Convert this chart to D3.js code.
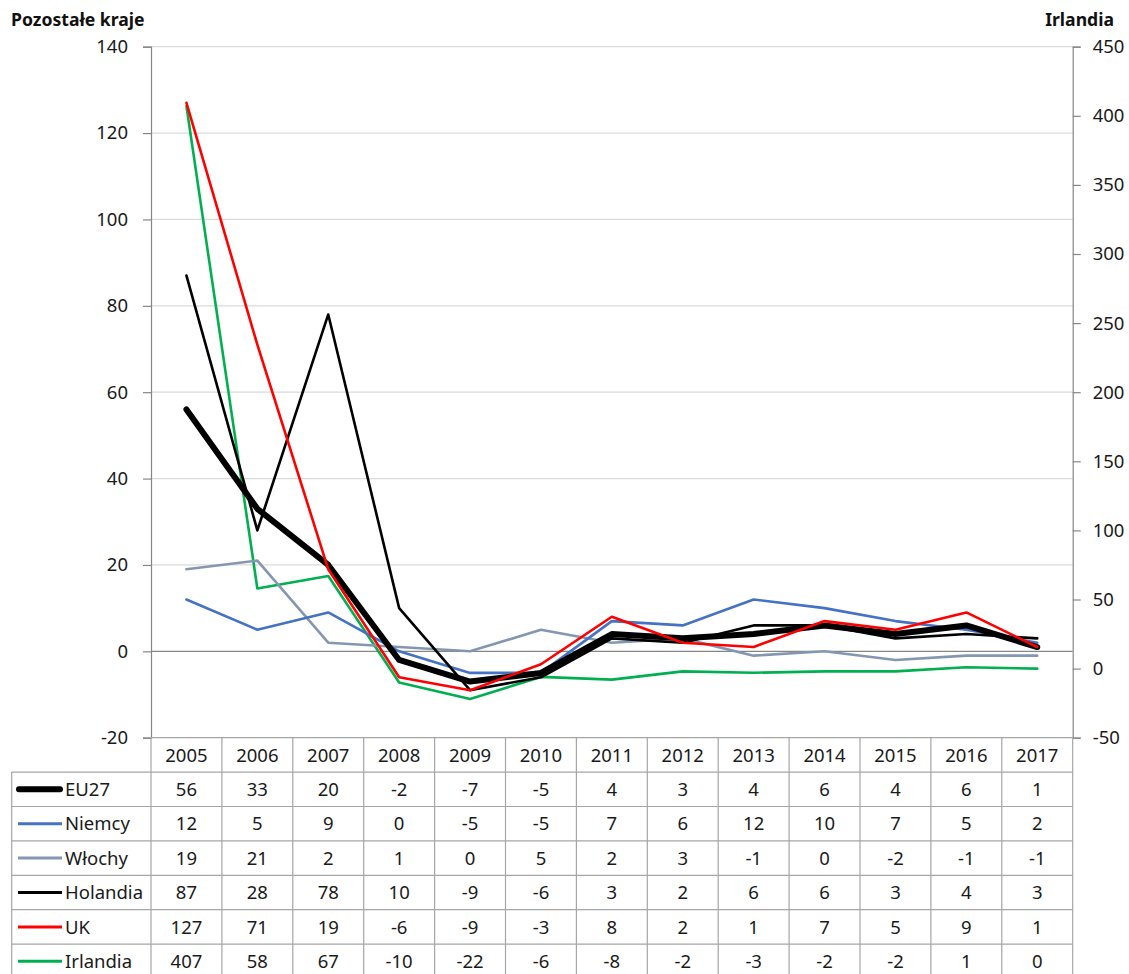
<!DOCTYPE html>
<html>
<head>
<meta charset="utf-8">
<script src="https://cdn.jsdelivr.net/npm/d3@7"></script>
<style>
  body { margin: 0; background: #fff; }
  svg { display: block; font-family: 'Noto Sans', sans-serif; }
</style>
</head>
<body>
<script>
const years = ['2005', '2006', '2007', '2008', '2009', '2010', '2011', '2012', '2013', '2014', '2015', '2016', '2017'];
const leftTicks = [-20, 0, 20, 40, 60, 80, 100, 120, 140];
const rightTicks = [-50, 0, 50, 100, 150, 200, 250, 300, 350, 400, 450];

const eu27 = [56, 33, 20, -2, -7, -5, 4, 3, 4, 6, 4, 6, 1];
const niemcy = [12, 5, 9, 0, -5, -5, 7, 6, 12, 10, 7, 5, 2];
const wlochy = [19, 21, 2, 1, 0, 5, 2, 3, -1, 0, -2, -1, -1];
const holandia = [87, 28, 78, 10, -9, -6, 3, 2, 6, 6, 3, 4, 3];
const uk = [127, 71, 19, -6, -9, -3, 8, 2, 1, 7, 5, 9, 1];
const irlandia = [407, 58, 67, -10, -22, -6, -8, -2, -3, -2, -2, 1, 0];

const seriesNames = ['EU27', 'Niemcy', 'Włochy', 'Holandia', 'UK', 'Irlandia'];

const width = 1129;
const height = 974;
const plot = { left: 151, right: 1072.7, top: 46.7, bottom: 737.7 };
const rowH = 34.4;
const tableLeft = 11.7;
const fontSize = 18.5;

const styles = {
  EU27: { color: '#000000', width: 6 },
  Niemcy: { color: '#4472c4', width: 2.6 },
  'Włochy': { color: '#8497b0', width: 2.6 },
  Holandia: { color: '#000000', width: 2.6 },
  UK: { color: '#ff0000', width: 2.6 },
  Irlandia: { color: '#00b050', width: 2.6 },
};

function main() {
  const series = [
    { name: 'EU27', values: eu27, axis: 'left' },
    { name: 'Niemcy', values: niemcy, axis: 'left' },
    { name: 'Włochy', values: wlochy, axis: 'left' },
    { name: 'Holandia', values: holandia, axis: 'left' },
    { name: 'UK', values: uk, axis: 'left' },
    { name: 'Irlandia', values: irlandia, axis: 'right' },
  ];

  const svg = d3.select('body').append('svg').attr('width', width).attr('height', height);

  const xBand = d3.scaleBand().domain(years).range([plot.left, plot.right]);
  const xMid = d => xBand(d) + xBand.bandwidth() / 2;
  const yLeft = d3.scaleLinear().domain([-20, 140]).range([plot.bottom, plot.top]);
  const yRight = d3.scaleLinear().domain([-50, 450]).range([plot.bottom, plot.top]);

  // light gridlines
  svg
    .append('g')
    .selectAll('line')
    .data(leftTicks.filter(d => d !== 0 && d !== -20))
    .enter()
    .append('line')
    .attr('x1', plot.left)
    .attr('x2', plot.right)
    .attr('y1', d => yLeft(d))
    .attr('y2', d => yLeft(d))
    .attr('stroke', '#dadada')
    .attr('stroke-width', 1.2);

  // zero line (category axis)
  svg
    .append('line')
    .attr('x1', plot.left)
    .attr('x2', plot.right)
    .attr('y1', yLeft(0))
    .attr('y2', yLeft(0))
    .attr('stroke', '#868686')
    .attr('stroke-width', 1.2);

  createAxes(svg, yLeft, yRight);
  createTable(svg, series, xBand, xMid);

  const order = ['Irlandia', 'Włochy', 'Niemcy', 'Holandia', 'EU27', 'UK'];
  order.forEach(name => {
    const s = series.find(d => d.name === name);
    const y = s.axis === 'left' ? yLeft : yRight;
    const line = d3
      .line()
      .x((_, i) => xMid(years[i]))
      .y(d => y(d));

    svg
      .append('path')
      .datum(s.values)
      .attr('d', line)
      .attr('fill', 'none')
      .attr('stroke', styles[name].color)
      .attr('stroke-width', styles[name].width)
      .attr('stroke-linejoin', 'round')
      .attr('stroke-linecap', 'round');
  });

  svg
    .append('text')
    .attr('x', 11)
    .attr('y', 26)
    .attr('font-size', 17.6)
    .attr('font-weight', 'bold')
    .attr('fill', '#111')
    .text('Pozostałe kraje');

  svg
    .append('text')
    .attr('x', 1114)
    .attr('y', 26)
    .attr('text-anchor', 'end')
    .attr('font-size', 17.6)
    .attr('font-weight', 'bold')
    .attr('fill', '#111')
    .text('Irlandia');
}

function createAxes(svg, yLeft, yRight) {
  const left = svg
    .append('g')
    .attr('transform', `translate(${plot.left}, 0)`)
    .call(d3.axisLeft(yLeft).tickValues(leftTicks).tickSize(8).tickPadding(15).tickFormat(d => `${d}`));

  const right = svg
    .append('g')
    .attr('transform', `translate(${plot.right}, 0)`)
    .call(d3.axisRight(yRight).tickValues(rightTicks).tickSize(8).tickPadding(12).tickFormat(d => `${d}`));

  [left, right].forEach(g => {
    g.select('.domain').attr('stroke', '#868686').attr('stroke-width', 1.2);
    g.selectAll('.tick line').attr('stroke', '#868686').attr('stroke-width', 1.2);
    g.selectAll('.tick text')
      .attr('font-family', "'Noto Sans', sans-serif")
      .attr('font-size', fontSize)
      .attr('fill', '#1a1a1a');
  });
}

function createTable(svg, series, xBand, xMid) {
  const g = svg.append('g');
  const rowsTop = plot.bottom + rowH;
  const bottom = rowsTop + series.length * rowH;
  const gridColor = '#a6a6a6';

  // column borders
  g.selectAll('line.col')
    .data(years.map(d => xBand(d)).concat([plot.right]))
    .enter()
    .append('line')
    .attr('x1', d => d)
    .attr('x2', d => d)
    .attr('y1', plot.bottom)
    .attr('y2', bottom)
    .attr('stroke', gridColor)
    .attr('stroke-width', 1.2);

  g.append('line')
    .attr('x1', tableLeft)
    .attr('x2', tableLeft)
    .attr('y1', rowsTop)
    .attr('y2', bottom)
    .attr('stroke', gridColor)
    .attr('stroke-width', 1.2);

  // row borders
  g.selectAll('line.row')
    .data(d3.range(series.length + 1))
    .enter()
    .append('line')
    .attr('x1', tableLeft)
    .attr('x2', plot.right)
    .attr('y1', i => rowsTop + i * rowH)
    .attr('y2', i => rowsTop + i * rowH)
    .attr('stroke', gridColor)
    .attr('stroke-width', 1.2);

  g.append('line')
    .attr('x1', plot.left)
    .attr('x2', plot.right)
    .attr('y1', plot.bottom)
    .attr('y2', plot.bottom)
    .attr('stroke', gridColor)
    .attr('stroke-width', 1.2);

  // header
  g.selectAll('text.year')
    .data(years)
    .enter()
    .append('text')
    .attr('x', d => xMid(d))
    .attr('y', plot.bottom + rowH / 2)
    .attr('dy', '0.36em')
    .attr('text-anchor', 'middle')
    .attr('font-size', fontSize)
    .attr('fill', '#1a1a1a')
    .text(d => d);

  series.forEach((s, r) => {
    const cy = rowsTop + r * rowH + rowH / 2;

    g.append('line')
      .attr('x1', s.name === 'EU27' ? 19 : 18)
      .attr('x2', s.name === 'EU27' ? 60 : 62)
      .attr('y1', cy)
      .attr('y2', cy)
      .attr('stroke', styles[s.name].color)
      .attr('stroke-width', s.name === 'EU27' ? 6 : 3)
      .attr('stroke-linecap', s.name === 'EU27' ? 'round' : 'butt');

    g.append('text')
      .attr('x', 65)
      .attr('y', cy)
      .attr('dy', '0.36em')
      .attr('font-size', fontSize)
      .attr('fill', '#1a1a1a')
      .text(s.name);

    g.selectAll(null)
      .data(s.values)
      .enter()
      .append('text')
      .attr('x', (_, i) => xMid(years[i]))
      .attr('y', cy)
      .attr('dy', '0.36em')
      .attr('text-anchor', 'middle')
      .attr('font-size', fontSize)
      .attr('fill', '#1a1a1a')
      .text(d => d);
  });
}

main();
</script>
</body>
</html>
